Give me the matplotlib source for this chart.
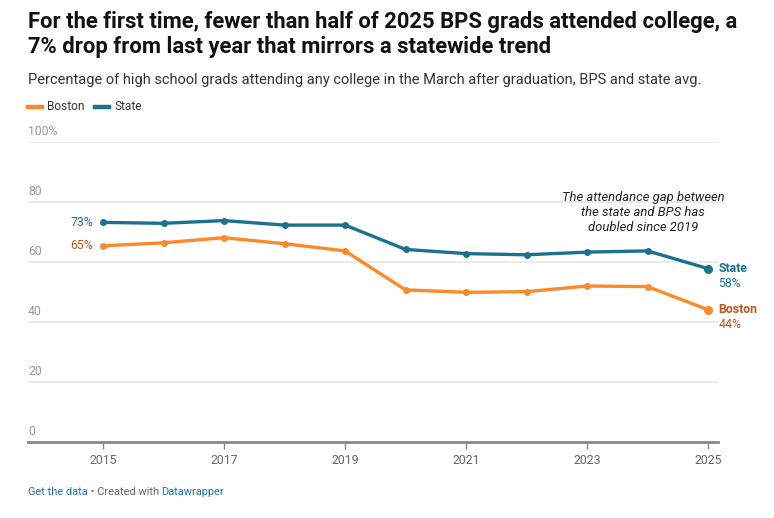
import matplotlib
matplotlib.use("Agg")
import matplotlib.pyplot as plt

# datos
years = [2015, 2016, 2017, 2018, 2019, 2020, 2021, 2022, 2023, 2024, 2025]
state = [73.2, 72.9, 73.8, 72.3, 72.3, 64.2, 62.8, 62.4, 63.3, 63.7, 57.8]
boston = [65.4, 66.4, 68.1, 66.1, 63.7, 50.7, 49.9, 50.1, 52.0, 51.8, 44.1]
ytick_vals = [0, 20, 40, 60, 80, 100]
ytick_labels = ["0", "20", "40", "60", "80", "100%"]
xtick_vals = [2015, 2017, 2019, 2021, 2023, 2025]

title = ("For the first time, fewer than half of 2025 BPS grads attended college, a\n"
         "7% drop from last year that mirrors a statewide trend")
subtitle = "Percentage of high school grads attending any college in the March after graduation, BPS and state avg."
note = "The attendance gap between\nthe state and BPS has\ndoubled since 2019"

ORANGE = "#fa8a2a"
ORANGE_TXT = "#c0561c"
BLUE = "#1c7190"
GREY = "#888888"

plt.rcParams["font.family"] = ["Roboto", "DejaVu Sans"]

W, H = 774, 518
fig = plt.figure(figsize=(W / 100, H / 100), dpi=100)
ax = fig.add_axes([28 / W, (H - 442) / H, (718 - 28) / W, 300 / H])
ax.set_xlim(2015 - 75 / 60.5, 2025 + 10 / 60.5)
ax.set_ylim(0, 100)

# grid y etiquetas del eje y
for v, lab in zip(ytick_vals, ytick_labels):
    if v > 0:
        ax.axhline(v, color="#e6e6e6", lw=1.1, zorder=0)
    ax.text(ax.get_xlim()[0], v + 1.3, lab, color="#999999",
            fontsize=8.8, ha="left", va="bottom")

for s in ["top", "right", "left"]:
    ax.spines[s].set_visible(False)
ax.spines["bottom"].set_color(GREY)
ax.spines["bottom"].set_linewidth(2)
ax.set_yticks([])
ax.set_xticks(xtick_vals)
ax.set_xticklabels([str(x) for x in xtick_vals], color="#666666", fontsize=8.8)
ax.tick_params(axis="x", length=5, width=1, color=GREY, pad=4)

ax.plot(years, state, color=BLUE, lw=2.4, marker="o", ms=4, zorder=3, solid_capstyle="round")
ax.plot(years, boston, color=ORANGE, lw=2.4, marker="o", ms=4, zorder=3, solid_capstyle="round")
ax.plot(years[-1], state[-1], "o", color=BLUE, ms=5.5, zorder=4)
ax.plot(years[-1], boston[-1], "o", color=ORANGE, ms=5.5, zorder=4)

# etiquetas inicio / fin
ax.text(2015 - 0.16, state[0], "73%", color=BLUE, fontsize=8.8, ha="right", va="center")
ax.text(2015 - 0.16, boston[0], "65%", color=ORANGE_TXT, fontsize=8.8, ha="right", va="center")
ax.annotate("State", (2025, state[-1]), xytext=(7.5, 0), textcoords="offset points",
            color=BLUE, fontsize=8.8, fontweight="bold", ha="left", va="center", annotation_clip=False)
ax.annotate("58%", (2025, state[-1]), xytext=(7.5, -10.5), textcoords="offset points",
            color=BLUE, fontsize=8.8, ha="left", va="center", annotation_clip=False)
ax.annotate("Boston", (2025, boston[-1]), xytext=(7.5, 0), textcoords="offset points",
            color=ORANGE_TXT, fontsize=8.8, fontweight="bold", ha="left", va="center", annotation_clip=False)
ax.annotate("44%", (2025, boston[-1]), xytext=(7.5, -10.5), textcoords="offset points",
            color=ORANGE_TXT, fontsize=8.8, ha="left", va="center", annotation_clip=False)

ax.text(2023.93, 76.5, note, fontsize=9.4, style="italic", color="#222222",
        ha="center", va="center", linespacing=1.22)

# titulos
fig.text(28 / W, 1 - 11 / H, title, fontsize=15.8, fontweight="bold", color="#111111",
         ha="left", va="top", linespacing=1.17)
fig.text(28 / W, 1 - 80 / H, subtitle, fontsize=10.5, color="#333333", ha="left", va="center")

# leyenda
fig.add_artist(plt.Line2D([28 / W, 42 / W], [1 - 107 / H] * 2, color=ORANGE, lw=3.2))
fig.text(47 / W, 1 - 107 / H, "Boston", fontsize=8.6, color="#333333", ha="left", va="center")
fig.add_artist(plt.Line2D([95 / W, 109 / W], [1 - 107 / H] * 2, color=BLUE, lw=3.2))
fig.text(114 / W, 1 - 107 / H, "State", fontsize=8.6, color="#333333", ha="left", va="center")

# pie
fig.canvas.draw()
r = fig.canvas.get_renderer()
x = 28
yy = 1 - 492 / H
for txt, col in [("Get the data", "#1a73b4"), (" \u2022 Created with ", "#666666"), ("Datawrapper", "#1a73b4")]:
    t = fig.text(x / W, yy, txt, fontsize=7.9, color=col, ha="left", va="center")
    x += t.get_window_extent(r).width

fig.savefig("out.png", dpi=100, facecolor="white")
